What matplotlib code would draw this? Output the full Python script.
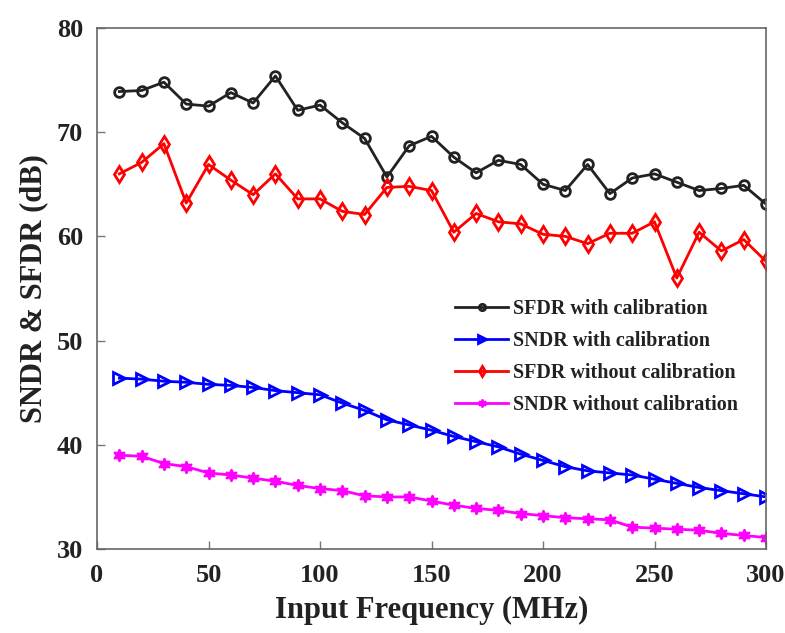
import numpy as np
import matplotlib
matplotlib.use("Agg")
from matplotlib import pyplot as plt

# input frequency (MHz)
freq = [10, 20, 30, 40, 50, 60, 70, 80, 90, 100,
        110, 120, 130, 140, 150, 160, 170, 180, 190, 200,
        210, 220, 230, 240, 250, 260, 270, 280, 290, 300]

sfdr_cal = [73.9, 74.0, 74.8, 72.7, 72.5, 73.8, 72.8, 75.4, 72.1, 72.6,
            70.9, 69.4, 65.7, 68.7, 69.6, 67.6, 66.1, 67.3, 66.9, 65.0,
            64.4, 66.9, 64.1, 65.6, 66.0, 65.2, 64.4, 64.6, 64.9, 63.1]

sndr_cal = [46.4, 46.3, 46.1, 46.0, 45.8, 45.7, 45.5, 45.2, 45.0, 44.8,
            44.0, 43.3, 42.4, 41.9, 41.4, 40.8, 40.3, 39.8, 39.1, 38.5,
            37.9, 37.5, 37.3, 37.1, 36.7, 36.3, 35.9, 35.6, 35.3, 35.0]

sfdr_nocal = [66.0, 67.1, 68.9, 63.2, 66.9, 65.4, 64.0, 66.0, 63.6, 63.6,
              62.4, 62.1, 64.7, 64.8, 64.4, 60.4, 62.2, 61.4, 61.2, 60.2,
              60.0, 59.3, 60.3, 60.3, 61.4, 56.0, 60.4, 58.6, 59.7, 57.6]

sndr_nocal = [39.0, 38.9, 38.2, 37.9, 37.3, 37.1, 36.8, 36.5, 36.1, 35.8,
              35.6, 35.1, 35.0, 35.0, 34.6, 34.2, 33.9, 33.7, 33.4, 33.2,
              33.0, 32.9, 32.8, 32.1, 32.0, 31.9, 31.8, 31.5, 31.3, 31.1]

labels = ["SFDR with calibration", "SNDR with calibration",
          "SFDR without calibration", "SNDR without calibration"]

plt.rcParams['font.family'] = ['Liberation Serif', 'DejaVu Serif']
plt.rcParams['font.weight'] = 'bold'

fig = plt.figure(figsize=(7.85, 6.33), dpi=100)
ax = fig.add_axes([0.1236, 0.1327, 0.8522, 0.8231])

lw = 2.0
ax.plot(freq, sfdr_cal, color='#222222', lw=lw, marker='o', ms=7,
        mfc='none', mew=2.0, label=labels[0])
ax.plot(freq, sndr_cal, color='#0000ff', lw=lw, marker='>', ms=8,
        mfc='none', mew=2.0, label=labels[1])
ax.plot(freq, sfdr_nocal, color='#ff0000', lw=lw, marker='d', ms=8,
        mfc='none', mew=2.0, label=labels[2])
ax.plot(freq, sndr_nocal, color='#ff00ff', lw=lw, marker=(6, 1, 0), ms=9,
        mfc='#ff00ff', mew=1.2, label=labels[3])

ax.set_xlim(0, 300)
ax.set_ylim(30, 80)
ax.set_xticks([0, 50, 100, 150, 200, 250, 300])
ax.set_yticks([30, 40, 50, 60, 70, 80])

ax.tick_params(direction='in', length=6, width=1, colors='#777777',
               labelcolor='#222222', labelsize=19, top=False, right=False)
ax.tick_params(axis='x', pad=11)
ax.tick_params(axis='y', pad=10)
for sp in ax.spines.values():
    sp.set_color('#666666')
    sp.set_linewidth(1.2)

ax.set_xlabel('Input Frequency (MHz)', fontsize=22, fontweight='bold',
              color='#222222', labelpad=6)
ax.set_ylabel('SNDR & SFDR (dB)', fontsize=22, fontweight='bold',
              color='#222222', labelpad=6)

leg = ax.legend(loc='center right', bbox_to_anchor=(0.985, 0.369), frameon=False,
                fontsize=14.5, handlelength=2.6, handletextpad=0.25,
                labelspacing=0.6, markerscale=0.65)
for t in leg.get_texts():
    t.set_color('#222222')

fig.savefig('out.png', dpi=100)
